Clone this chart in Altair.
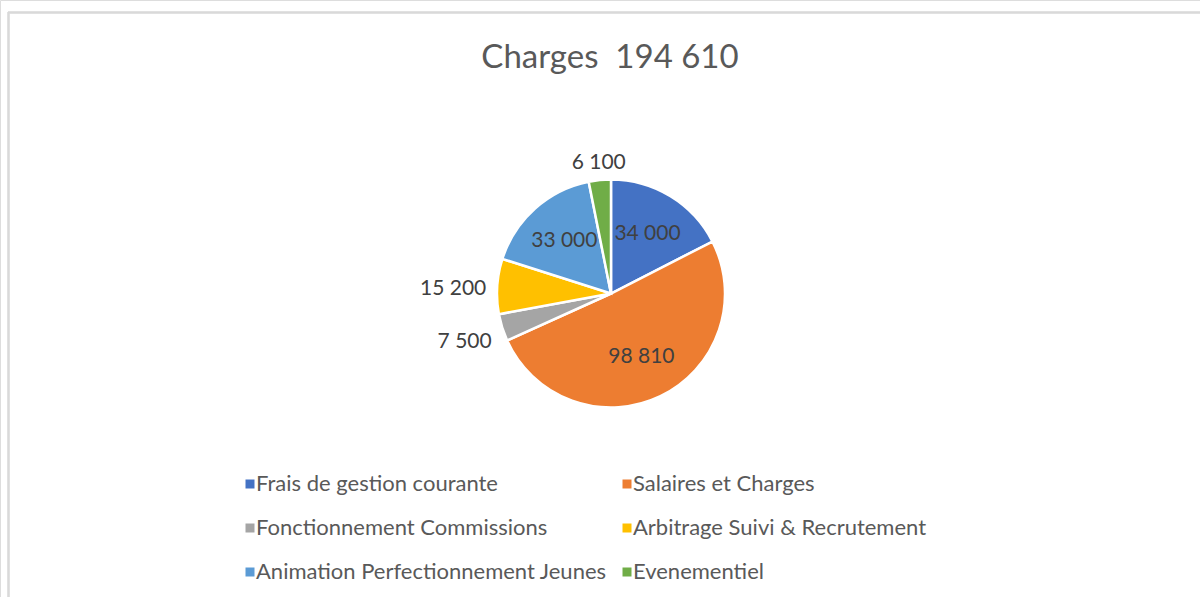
import altair as alt
import pandas as pd

categories = [
    "Frais de gestion courante",
    "Salaires et Charges",
    "Fonctionnement Commissions",
    "Arbitrage Suivi & Recrutement",
    "Animation Perfectionnement Jeunes",
    "Evenementiel",
]
values = [34000, 98810, 7500, 15200, 33000, 6100]
colors = ["#4472C4", "#ED7D31", "#A5A5A5", "#FFC000", "#5B9BD5", "#70AD47"]
title_text = "Charges\u00a0 194 610"

df = pd.DataFrame({"category": categories, "value": values, "idx": list(range(len(categories)))})

FONT = "Lato"
CX, CY, R = 611, 293.5, 114

theta = alt.Theta("value:Q", stack=True)
order = alt.Order("idx:Q", sort="ascending")
cx = alt.value(CX)
cy = alt.value(CY)

base = alt.Chart(df)

border_top = base.mark_rule(color="#d9d9d9", strokeWidth=1.5).encode(
    x=alt.value(8), x2=alt.value(1200), y=alt.value(12.5)
)
border_left = base.mark_rule(color="#d9d9d9", strokeWidth=1.5).encode(
    x=alt.value(8.5), y=alt.value(12), y2=alt.value(597)
)

arcs = base.mark_arc(outerRadius=R, stroke="white", strokeWidth=2.5).encode(
    theta=theta,
    order=order,
    x=cx,
    y=cy,
    color=alt.Color(
        "category:N",
        scale=alt.Scale(domain=categories, range=colors),
        legend=alt.Legend(
            title=None,
            orient="none",
            direction="horizontal",
            legendX=236,
            legendY=473,
            columns=2,
            columnPadding=6,
            rowPadding=22,
            symbolType="square",
            symbolSize=81,
            symbolStrokeWidth=0,
            symbolOffset=3,
            labelFont=FONT,
            labelFontSize=22,
            labelColor="#595959",
            labelLimit=600,
            labelOffset=alt.ExprRef(expr="-5"),
            padding=0,
        ),
    ),
)

def label_layer(field, **kw):
    return base.mark_text(font=FONT, fontSize=21, color="#404040", **kw).encode(
        theta=theta, order=order, x=cx, y=cy, text=f"{field}:N"
    )

inside = label_layer("lab_in", radius=70, align="center", baseline="middle")
lower_left = label_layer("lab_ll", radius=125, align="right", baseline="top")
left = label_layer("lab_l", radius=125, align="right", baseline="middle", dy=3)
top = label_layer("lab_t", radius=125, align="center", baseline="alphabetic")

chart = (
    alt.layer(border_top, border_left, arcs, inside, lower_left, left, top)
    .transform_joinaggregate(total="sum(value)")
    .transform_window(cum="sum(value)", sort=[alt.SortField("idx", order="ascending")])
    .transform_calculate(
        share="datum.value / datum.total",
        mid="(datum.cum - datum.value / 2) / datum.total",
        txt="replace(format(datum.value, ','), ',', ' ')",
    )
    .transform_calculate(
        lab_in="datum.share >= 0.1 ? datum.txt : ''",
        lab_ll="datum.share < 0.1 && datum.mid >= 0.5 && datum.mid < 0.73 ? datum.txt : ''",
        lab_l="datum.share < 0.1 && datum.mid >= 0.73 && datum.mid < 0.85 ? datum.txt : ''",
        lab_t="datum.share < 0.1 && (datum.mid >= 0.85 || datum.mid < 0.15) ? datum.txt : ''",
    )
    .properties(
        width=1200,
        height=597,
        autosize=alt.AutoSizeParams(type="none"),
        padding=0,
        title=alt.TitleParams(
            text=title_text,
            font=FONT,
            fontSize=33,
            fontWeight="normal",
            color="#595959",
            anchor="middle",
            dx=10,
            offset=-101,
            baseline="alphabetic",
        ),
    )
    .configure_view(stroke=None)
    .configure(background="white")
)

chart.save("out.html", embed_options={"renderer": "svg", "actions": False})
